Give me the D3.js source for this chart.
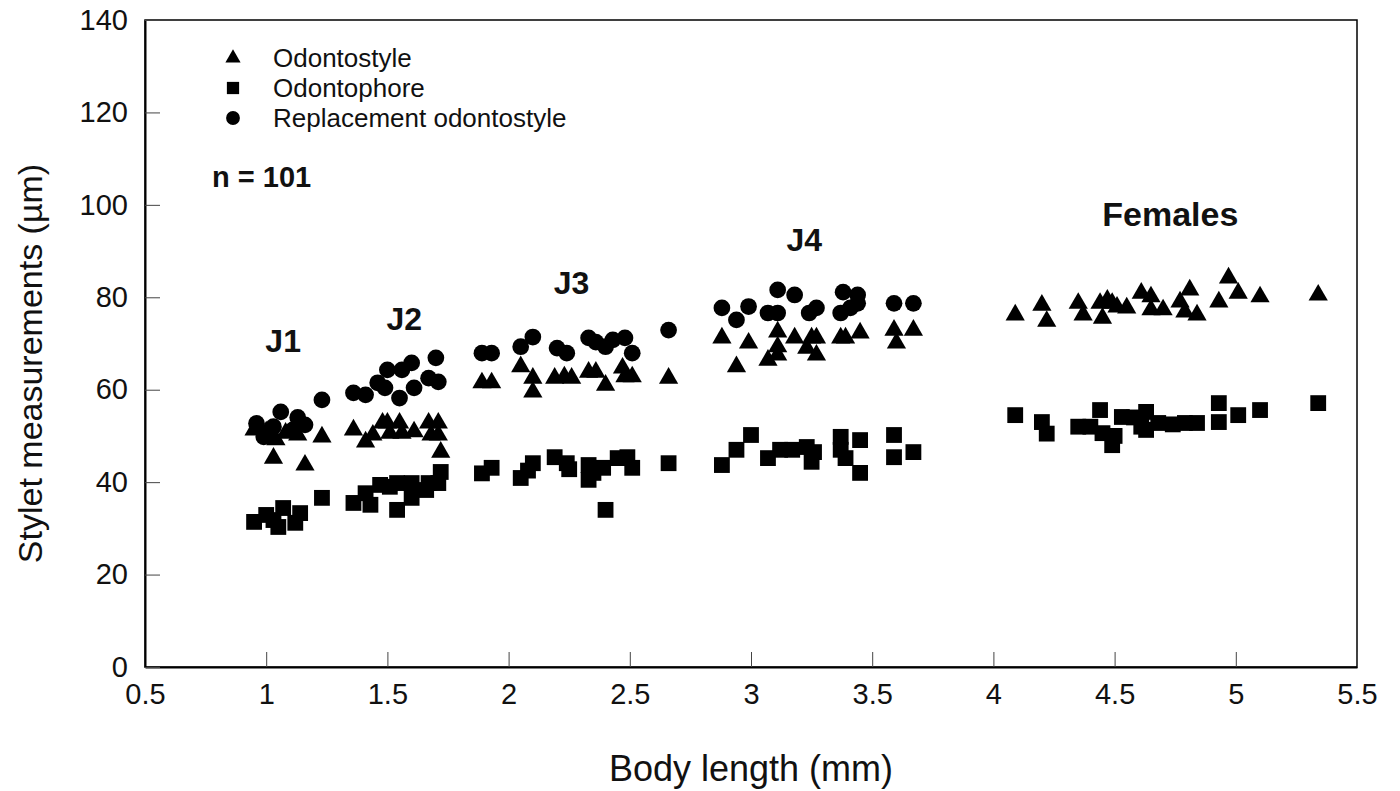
<!DOCTYPE html>
<html>
<head>
<meta charset="utf-8">
<script src="https://cdn.jsdelivr.net/npm/d3@7"></script>
<style>
  html, body { margin: 0; padding: 0; background: #fff; }
  svg { display: block; font-family: "Liberation Sans", Arial, sans-serif; }
</style>
</head>
<body>
<svg id="chart" width="1400" height="791"></svg>
<script>
// ---- Data (body length mm, measurement µm) ----
const odontostyle = [
  [0.95,51.3],[1.0,50.9],[1.03,45.2],[1.04,49.2],[1.08,50.6],[1.13,50.2],[1.16,43.7],[1.23,49.8],
  [1.36,51.3],[1.41,48.7],[1.44,50.2],[1.48,52.8],[1.50,52.8],[1.51,50.6],[1.55,52.8],[1.56,50.6],[1.61,50.9],[1.67,52.8],[1.71,52.8],[1.68,50.2],[1.71,50.2],[1.72,46.5],
  [1.89,61.5],[1.93,61.5],[2.05,65],[2.10,62.5],[2.10,59.5],[2.19,62.5],[2.23,62.8],[2.26,62.5],[2.33,63.8],[2.36,63.8],[2.40,61],[2.47,64.7],[2.48,62.8],[2.51,62.8],[2.66,62.5],
  [2.88,71.2],[2.94,65],[2.99,70.1],[3.07,66.4],[3.11,72.5],[3.11,69.3],[3.11,67.5],[3.18,71.2],[3.23,69],[3.25,71.2],[3.27,71.2],[3.27,67.5],[3.37,71.2],[3.39,71.2],[3.45,72.3],[3.59,72.9],[3.60,70.1],[3.67,72.9],
  [4.09,76.2],[4.20,78.3],[4.22,74.8],[4.35,78.7],[4.37,76.2],[4.44,78.7],[4.45,75.5],[4.47,79.4],[4.49,78.7],[4.51,77.9],[4.55,77.7],[4.61,80.9],[4.65,80.1],[4.65,77.3],[4.70,77.3],[4.77,79],[4.79,76.8],[4.81,81.6],[4.84,76.2],[4.93,79],[4.97,84.2],[5.01,80.9],[5.10,80.1],[5.34,80.5]
];
const odontophore = [
  [0.95,31.4],[1.0,32.9],[1.03,31.8],[1.05,30.3],[1.07,34.4],[1.12,31.2],[1.14,33.3],[1.23,36.6],
  [1.36,35.5],[1.41,37.6],[1.43,35.1],[1.47,39.4],[1.51,39],[1.54,34],[1.54,39.8],[1.60,36.6],[1.60,39.8],[1.66,38.3],[1.67,39.8],[1.71,39.8],[1.72,42.2],
  [1.89,41.9],[1.93,43.1],[2.05,40.9],[2.08,42.5],[2.10,44.1],[2.19,45.4],[2.24,44.1],[2.25,42.8],[2.33,43.7],[2.33,40.5],[2.35,42],[2.39,43.1],[2.40,34],[2.45,45.2],[2.49,45.4],[2.51,43.1],[2.66,44.1],
  [2.88,43.7],[2.94,47],[3.0,50.2],[3.07,45.2],[3.12,47],[3.17,47],[3.23,47.6],[3.26,46.5],[3.25,44.4],[3.37,49.8],[3.37,47],[3.39,45.2],[3.45,49.1],[3.45,42],[3.59,50.2],[3.59,45.4],[3.67,46.5],
  [4.09,54.5],[4.20,53],[4.22,50.5],[4.35,52],[4.40,52],[4.44,55.6],[4.45,50.6],[4.49,48],[4.50,50],[4.53,54.1],[4.58,54],[4.61,52],[4.63,55.2],[4.63,51.3],[4.68,52.8],[4.74,52.5],[4.79,52.8],[4.84,52.8],[4.93,57.1],[4.93,53],[5.01,54.5],[5.10,55.6],[5.34,57.1]
];
const replacement = [
  [0.96,52.7],[0.99,49.8],[1.03,52],[1.06,55.2],[1.11,51.3],[1.13,54],[1.16,52.4],[1.23,57.8],
  [1.36,59.3],[1.41,58.9],[1.46,61.5],[1.49,60.4],[1.50,64.3],[1.55,58.2],[1.56,64.3],[1.60,65.8],[1.61,60.4],[1.67,62.5],[1.70,66.9],[1.71,61.7],
  [1.89,67.9],[1.93,67.9],[2.05,69.3],[2.10,71.4],[2.20,69],[2.24,67.9],[2.33,71.2],[2.36,70.3],[2.40,69.3],[2.43,70.8],[2.48,71.2],[2.51,67.9],[2.66,72.9],
  [2.88,77.7],[2.94,75.1],[2.99,78],[3.07,76.6],[3.11,76.6],[3.11,81.6],[3.18,80.5],[3.24,76.6],[3.27,77.7],[3.38,81.1],[3.44,80.5],[3.37,76.6],[3.41,77.7],[3.44,78.7],[3.59,78.7],[3.67,78.7]
];
const xTicks = [0.5,1,1.5,2,2.5,3,3.5,4,4.5,5,5.5];
const yTicks = [0,20,40,60,80,100,120,140];
const stageLabels = [
  {text:"J1", x:1.07, y:68.2},
  {text:"J2", x:1.57, y:73.0},
  {text:"J3", x:2.26, y:80.8},
  {text:"J4", x:3.22, y:90.0},
  {text:"Females", x:4.73, y:95.5}
];
const legendItems = [
  {label:"Odontostyle", shape:"triangle"},
  {label:"Odontophore", shape:"square"},
  {label:"Replacement odontostyle", shape:"circle"}
];

// ---- Layout ----
const svg = d3.select("#chart");
const W = 1400, H = 791;
const m = {left:145, right:43, top:20, bottom:124};
const iw = W - m.left - m.right, ih = H - m.top - m.bottom;

const x = d3.scaleLinear().domain([0.5,5.5]).range([0, iw]);
const y = d3.scaleLinear().domain([0,140]).range([ih, 0]);

const g = svg.append("g").attr("transform", `translate(${m.left},${m.top})`);

// frame
g.append("rect").attr("x",0).attr("y",0).attr("width",iw).attr("height",ih)
  .attr("fill","none").attr("stroke","#000").attr("stroke-width",1.5);

// axes
const xAxis = g.append("g").attr("transform",`translate(0,${ih})`)
  .call(d3.axisBottom(x).tickValues(xTicks).tickFormat(d => String(d)).tickSizeInner(-15).tickSizeOuter(0).tickPadding(16));
const yAxis = g.append("g")
  .call(d3.axisLeft(y).tickValues(yTicks).tickFormat(d => String(d)).tickSizeInner(-15).tickSizeOuter(0).tickPadding(17));
[xAxis, yAxis].forEach(a => {
  a.select(".domain").attr("stroke","#000").attr("stroke-width",2);
  a.selectAll(".tick line").attr("stroke","#444").attr("stroke-width",1);
  a.selectAll(".tick text").attr("font-size",29).attr("fill","#111")
    .attr("font-family",'"Liberation Sans", Arial, sans-serif');
});

// symbols
const sym = {
  triangle: d3.symbol().type(d3.symbolTriangle).size(160),
  square: d3.symbol().type(d3.symbolSquare).size(250),
  circle: d3.symbol().type(d3.symbolCircle).size(220)
};
function plot(data, shape){
  g.append("g").selectAll("path").data(data).join("path")
    .attr("d", sym[shape]())
    .attr("transform", d => `translate(${x(d[0])},${y(d[1])})`)
    .attr("fill","#000");
}
plot(odontophore, "square");
plot(odontostyle, "triangle");
plot(replacement, "circle");

// stage labels
g.append("g").selectAll("text").data(stageLabels).join("text")
  .attr("x", d => x(d.x)).attr("y", d => y(d.y))
  .attr("text-anchor","middle").attr("font-size", d => d.text === "Females" ? 34 : 32)
  .attr("font-weight","bold").attr("fill","#111").text(d => d.text);

// legend
const leg = g.append("g").attr("transform","translate(88,38)");
legendItems.forEach((d,i) => {
  const row = leg.append("g").attr("transform",`translate(0,${i*30})`);
  const s = d.shape === "triangle" ? d3.symbol().type(d3.symbolTriangle).size(100)
          : d.shape === "square" ? d3.symbol().type(d3.symbolSquare).size(150)
          : d3.symbol().type(d3.symbolCircle).size(150);
  row.append("path").attr("d", s()).attr("fill","#000");
  row.append("text").attr("x",40).attr("y",9).attr("font-size",26).attr("fill","#111").text(d.label);
});
g.append("text").attr("x",67).attr("y",167).attr("font-size",29).attr("font-weight","bold")
  .attr("fill","#111").text("n = 101");

// axis titles
svg.append("text").attr("x", m.left + iw/2).attr("y", 781).attr("text-anchor","middle")
  .attr("font-size",36).attr("fill","#111").text("Body length (mm)");
svg.append("text").attr("transform",`translate(42,${m.top + ih/2 + 20}) rotate(-90)`)
  .attr("text-anchor","middle").attr("font-size",34).attr("fill","#111").text("Stylet measurements (µm)");
</script>
</body>
</html>
